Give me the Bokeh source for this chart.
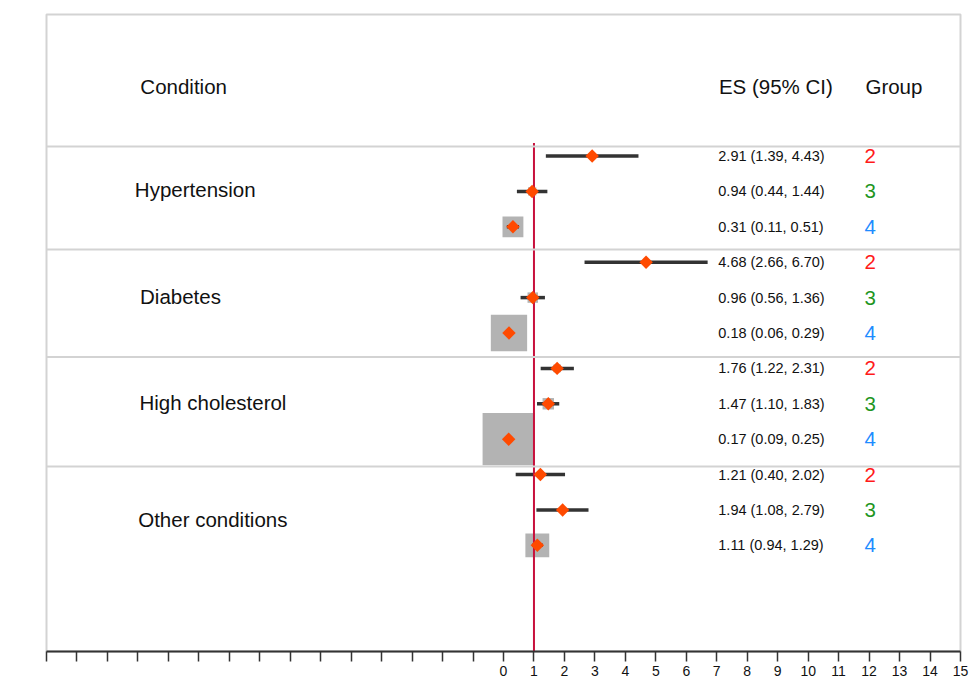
import numpy as np
from bokeh.plotting import figure
from bokeh.models import Range1d, FixedTicker, Span, ColumnDataSource
from bokeh.core.properties import value
from bokeh.embed import file_html
from bokeh.resources import INLINE

# ---------------- data ----------------
conditions = ["Hypertension", "Diabetes", "High cholesterol", "Other conditions"]
groups = ["2", "3", "4"]
es = [2.91, 0.94, 0.31, 4.68, 0.96, 0.18, 1.76, 1.47, 0.17, 1.21, 1.94, 1.11]
ci_low = [1.39, 0.44, 0.11, 2.66, 0.56, 0.06, 1.22, 1.10, 0.09, 0.40, 1.08, 0.94]
ci_high = [4.43, 1.44, 0.51, 6.70, 1.36, 0.29, 2.31, 1.83, 0.25, 2.02, 2.79, 1.29]
tick_values = list(range(-15, 16))
tick_labels = ["" if t < 0 else str(t) for t in tick_values]
reference_value = 1
header_labels = ["Condition", "ES (95% CI)", "Group"]

# ---------------- layout / style constants ----------------
FONT = "Liberation Sans"
group_colors = {"2": "#ff1a1a", "3": "#1f961f", "4": "#1e8cff"}
n_rows = len(es)
row_y = np.arange(n_rows)
sep_y = [-0.27, 2.64, 5.68, 8.77]
cond_y = [0.95, 3.97, 6.96, 10.27]
cond_x = [-12.1, -11.93, -11.95, -11.99]
header_y = -1.96
header_x = [-11.92, 7.07, 11.88]
x_es, x_grp = 7.05, 11.85
weight_scale = 8.35  # px * CI width

row_group = [groups[i % 3] for i in range(n_rows)]
src = ColumnDataSource(dict(
    y=row_y,
    es=es,
    lo=ci_low,
    hi=ci_high,
    wsize=[weight_scale / (h - l) for l, h in zip(ci_low, ci_high)],
    es_text=[f"{e:.2f} ({l:.2f}, {h:.2f})" for e, l, h in zip(es, ci_low, ci_high)],
    grp=row_group,
    grp_color=[group_colors[g] for g in row_group],
    x_es=[x_es] * n_rows,
    x_grp=[x_grp] * n_rows,
))

p = figure(width=970, height=684,
           x_range=Range1d(-15, 15), y_range=Range1d(14, -4),
           output_backend="svg", toolbar_location=None,
           y_axis_location=None,
           min_border_left=46, min_border_right=10,
           min_border_top=14, min_border_bottom=33)
p.grid.visible = False
p.outline_line_color = "#d3d3d3"
p.outline_line_width = 2
p.background_fill_color = "white"
p.border_fill_color = "white"

# separators
for s in sep_y:
    p.add_layout(Span(location=s, dimension="width", line_color="#d3d3d3", line_width=2))

# weight squares
p.scatter(x="es", y="y", size="wsize", marker="square", source=src,
          fill_color="#b3b3b3", line_color=None)
# CI lines
p.segment(x0="lo", y0="y", x1="hi", y1="y", source=src,
          line_color="#333333", line_width=3.5)
# reference line
p.segment(x0=[reference_value], y0=[-0.37], x1=[reference_value], y1=[14],
          line_color="#c8103c", line_width=2)
# diamonds
p.scatter(x="es", y="y", size=9.5, marker="square", angle=np.pi / 4, source=src,
          fill_color="#ff4a00", line_color=None)

# ES text and group numbers
p.text(x="x_es", y="y", text="es_text", source=src, text_font=value(FONT),
       text_font_size="14.5px", text_color="#111111", text_baseline="middle")
p.text(x="x_grp", y="y", text="grp", source=src, text_font=value(FONT),
       text_font_size="20.5px", text_color="grp_color", text_baseline="middle")

# condition labels
p.text(x=cond_x, y=cond_y, text=conditions, text_font=value(FONT),
       text_font_size="20.5px", text_color="#111111", text_baseline="middle")
# headers
p.text(x=header_x, y=[header_y] * 3, text=header_labels,
       text_font=value(FONT), text_font_size="20.5px", text_color="#111111",
       text_baseline="middle")

# axis
ax = p.xaxis[0]
ax.ticker = FixedTicker(ticks=tick_values)
ax.major_label_overrides = {t: l for t, l in zip(tick_values, tick_labels)}
ax.axis_line_color = "#333333"
ax.axis_line_width = 2
ax.major_tick_line_color = "#333333"
ax.major_tick_line_width = 1.5
ax.major_tick_in = 0
ax.major_tick_out = 10
ax.minor_tick_line_color = None
ax.major_label_standoff = 4
ax.major_label_text_font = FONT
ax.major_label_text_font_size = "14px"
ax.major_label_text_color = "#111111"

open("out.html", "w").write(file_html(p, INLINE))
